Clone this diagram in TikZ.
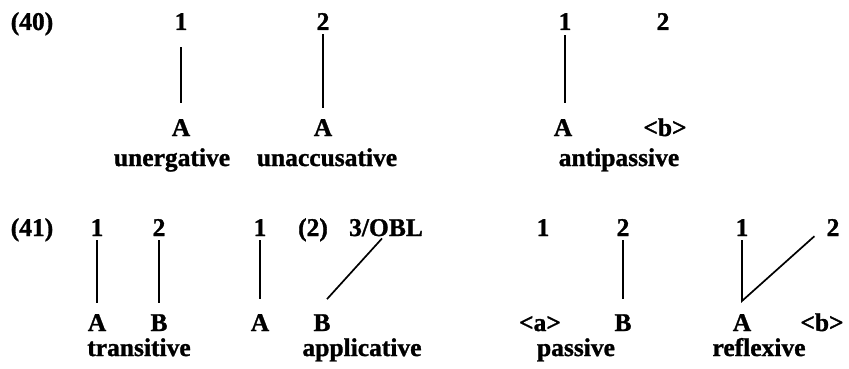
\documentclass[tikz,border=0pt]{standalone}
\usepackage{fontspec}
\setmainfont{Liberation Serif}[BoldFeatures={FakeBold=1.2}]
\usetikzlibrary{calc}
\begin{document}
\begin{tikzpicture}[x=1pt,y=-1pt,
  lbl/.style={inner sep=0pt,anchor=base,font=\bfseries\fontsize{25.5}{28}\selectfont},
  link/.style={line width=1.7pt}]
\useasboundingbox[fill=white] (0,0) rectangle (849,369);
% ---- (40)
\node[lbl] (ex40) at (32,30) {(40)};
% unergative
\node[lbl] (ua1) at (181,30) {1};
\node[lbl] (uaA) at (181,136) {A};
\node[lbl] (uaT) at (172,166) {unergative};
\draw[link,shorten <=17pt,shorten >=16pt] (ua1.south) -- (uaA.north);
% unaccusative
\node[lbl] (uc2) at (323,30) {2};
\node[lbl] (ucA) at (323,136) {A};
\node[lbl] (ucT) at (327,166) {unaccusative};
\draw[link,shorten <=4pt,shorten >=11pt] (uc2.south) -- (ucA.north);
% antipassive
\node[lbl] (ap1) at (565,30) {1};
\node[lbl] (ap2) at (663,30) {2};
\node[lbl] (apA) at (563,136) {A};
\node[lbl] (apb) at (665,136) {<b>};
\node[lbl] (apT) at (619,166) {antipassive};
\draw[link,shorten <=5pt,shorten >=16pt] (ap1.south) -- ($(apA.north)+(2,0)$);
% ---- (41)
\node[lbl] (ex41) at (32,236) {(41)};
% transitive
\node[lbl] (tr1) at (97,236) {1};
\node[lbl] (tr2) at (159,236) {2};
\node[lbl] (trA) at (97,331) {A};
\node[lbl] (trB) at (159,331) {B};
\node[lbl] (trT) at (139,356) {transitive};
\draw[link,shorten <=4pt,shorten >=11pt] (tr1.south) -- (trA.north);
\draw[link,shorten <=4pt,shorten >=11pt] (tr2.south) -- (trB.north);
% applicative
\node[lbl] (ac1) at (260,236) {1};
\node[lbl] (ac2) at (313,236) {(2)};
\node[lbl] (acO) at (386,236) {3/OBL};
\node[lbl] (acA) at (260,331) {A};
\node[lbl] (acB) at (322,331) {B};
\node[lbl] (acT) at (362,356) {applicative};
\draw[link,shorten <=4pt,shorten >=15pt] (ac1.south) -- (acA.north);
\coordinate (acTop) at ($(acO.south)+(-4,2)$);
\coordinate (acBot) at ($(acB.north)+(5,-15)$);
\draw[link] (acBot) -- (acTop);
% passive
\node[lbl] (pa1) at (543,236) {1};
\node[lbl] (pa2) at (623,236) {2};
\node[lbl] (paa) at (540,331) {<a>};
\node[lbl] (paB) at (623,331) {B};
\node[lbl] (paT) at (576,356) {passive};
\draw[link,shorten <=4pt,shorten >=15pt] (pa2.south) -- (paB.north);
% reflexive
\node[lbl] (rf1) at (742,236) {1};
\node[lbl] (rf2) at (833,236) {2};
\node[lbl] (rfA) at (742,331) {A};
\node[lbl] (rfb) at (822,331) {<b>};
\node[lbl] (rfT) at (759,356) {reflexive};
\coordinate (rfV) at ($(rfA.north)+(0,-13)$);
\draw[link,line join=miter] ($(rf1.south)+(0,4)$) -- (rfV) -- ($(rf2.south west)+(-12,0)$);
\end{tikzpicture}
\end{document}
